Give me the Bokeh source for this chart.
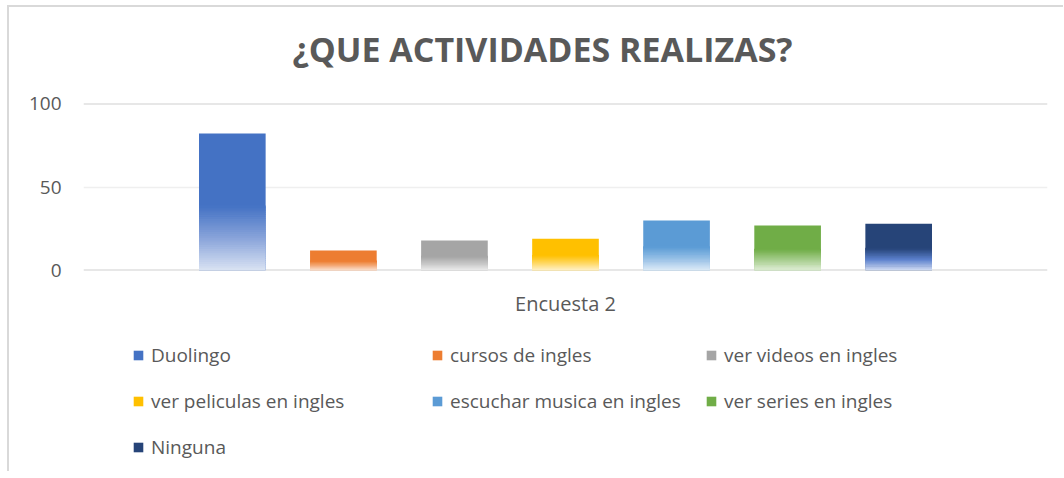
from bokeh.plotting import figure
from bokeh.layouts import column
from bokeh.models import (Range1d, FixedTicker, Legend, LegendItem, Span, Label)
from bokeh.embed import file_html
from bokeh.resources import INLINE

# ---- data ----
series = ["Duolingo", "cursos de ingles", "ver videos en ingles",
          "ver peliculas en ingles", "escuchar musica en ingles",
          "ver series en ingles", "Ninguna"]
values = [82, 12, 18, 19, 30, 27, 28]
category = "Encuesta 2"
title = "¿QUE ACTIVIDADES REALIZAS?"
y_ticks = [0, 50, 100]

# ---- styles ----
colors = ["#4472C4", "#ED7D31", "#A5A5A5", "#FFC000", "#5B9BD5", "#70AD47", "#264478"]
mids = ["#89a4da", "#f4ad7e", "#c6c6c6", "#ffd760", "#97c0e6", "#a6cd8d", "#5b80cc"]
lights = ["#dae3f3", "#fbe4d5", "#ededed", "#fff2cc", "#deebf7", "#e2efda", "#d3ddf3"]
TXT = "#595959"
FONT = "Open Sans"
W = 1054

def hex2rgb(h):
    h = h.lstrip("#")
    return [int(h[i:i + 2], 16) for i in (0, 2, 4)]

def lerp(c1, c2, t):
    a, b = hex2rgb(c1), hex2rgb(c2)
    return "#%02x%02x%02x" % tuple(round(a[k] + (b[k] - a[k]) * t) for k in range(3))

def grad_color(i, t):
    if t < 0.5:
        return lerp(lights[i], mids[i], t / 0.5)
    return lerp(mids[i], colors[i], (t - 0.5) / 0.5)

xs = list(range(len(series)))

# ---- title strip ----
t = figure(width=W, height=80, output_backend="svg", toolbar_location=None,
           x_axis_location=None, y_axis_location=None, title=None,
           x_range=Range1d(0, 1), y_range=Range1d(0, 1),
           min_border_left=0, min_border_right=0, min_border_top=0, min_border_bottom=0)
t.grid.visible = False
t.outline_line_color = None
t.add_layout(Label(x=459, y=39, x_units="screen", y_units="screen", text=title,
                   text_font=FONT, text_font_size="34px", text_font_style="bold",
                   text_color=TXT, text_align="center", text_baseline="middle"))

# ---- chart ----
p = figure(width=W, height=232, output_backend="svg", toolbar_location=None, title=None,
           x_range=Range1d(-1.34, len(series) - 1 + 1.34), y_range=Range1d(0, 100),
           min_border_left=74, min_border_right=16, min_border_top=16,
           min_border_bottom=48)
p.outline_line_color = None

BW = 0.6
GRAD_FRAC = 0.47
N = 30
for i, (x, v) in enumerate(zip(xs, values)):
    p.vbar(x=[x], top=[v], bottom=[0], width=BW, fill_color=colors[i], line_color=None)
    gtop = v * GRAD_FRAC
    sx, tops, bots, cols = [], [], [], []
    for j in range(N):
        sx.append(x)
        bots.append(gtop * j / N)
        tops.append(min(gtop * (j + 1) / N + 0.4, v))
        cols.append(grad_color(i, (j + 0.5) / N))
    p.vbar(x=sx, top=tops, bottom=bots, width=BW, fill_color=cols, line_color=None)

p.xgrid.grid_line_color = None
p.ygrid.grid_line_color = "#efefef"
p.ygrid.grid_line_width = 1.5
p.ygrid.ticker = FixedTicker(ticks=y_ticks)
for loc in (y_ticks[0], y_ticks[-1]):
    p.add_layout(Span(location=loc, dimension="width", line_color="#cfcfcf",
                      line_width=2, level="underlay"))

p.yaxis.ticker = FixedTicker(ticks=y_ticks)
p.yaxis.axis_line_color = None
p.yaxis.major_tick_line_color = None
p.yaxis.minor_tick_line_color = None
p.yaxis.major_label_text_font = FONT
p.yaxis.major_label_text_font_size = "19px"
p.yaxis.major_label_text_color = TXT
p.yaxis.major_label_standoff = 16

center = (xs[0] + xs[-1]) / 2
p.xaxis.ticker = FixedTicker(ticks=[center])
p.xaxis.major_label_overrides = {center: category}
p.xaxis.axis_line_color = None
p.xaxis.major_tick_line_color = None
p.xaxis.minor_tick_line_color = None
p.xaxis.major_label_text_font = FONT
p.xaxis.major_label_text_font_size = "20px"
p.xaxis.major_label_text_color = TXT
p.xaxis.major_label_standoff = 13

# ---- legend strip ----
q = figure(width=W, height=152, output_backend="svg", toolbar_location=None,
           x_range=Range1d(0, 1), y_range=Range1d(0, 1),
           min_border_left=0, min_border_right=0, min_border_top=0, min_border_bottom=0)
q.axis.visible = False
q.grid.visible = False
q.outline_line_color = None
proxies = [q.vbar(x=[0.5], top=[0], bottom=[0], width=0.01, fill_color=colors[i],
                  line_color=None) for i in range(len(series))]

cols_idx = [[0, 3, 6], [1, 4], [2, 5]]
col_x = [49, 348, 622]
SP = 20
LH = 26
for ci, idxs in enumerate(cols_idx):
    items = [LegendItem(label=series[k], renderers=[proxies[k]]) for k in idxs]
    n = len(idxs)
    h = LH * n + SP * (n - 1)
    y_bottom = 129 - h
    lg = Legend(items=items, location=(col_x[ci], y_bottom), orientation="vertical",
                padding=0, margin=0, spacing=SP, glyph_width=12, glyph_height=12,
                label_height=LH, label_standoff=7, border_line_color=None,
                background_fill_alpha=0, label_text_font=FONT,
                label_text_font_size="19px", label_text_color=TXT)
    q.add_layout(lg, "center")

layout = column(t, p, q, spacing=0)
layout.styles = {"border-left": "2px solid #d9d9d9", "border-top": "2px solid #d9d9d9",
                 "margin-left": "7px", "margin-top": "5px"}

open("out.html", "w").write(file_html(layout, INLINE))
